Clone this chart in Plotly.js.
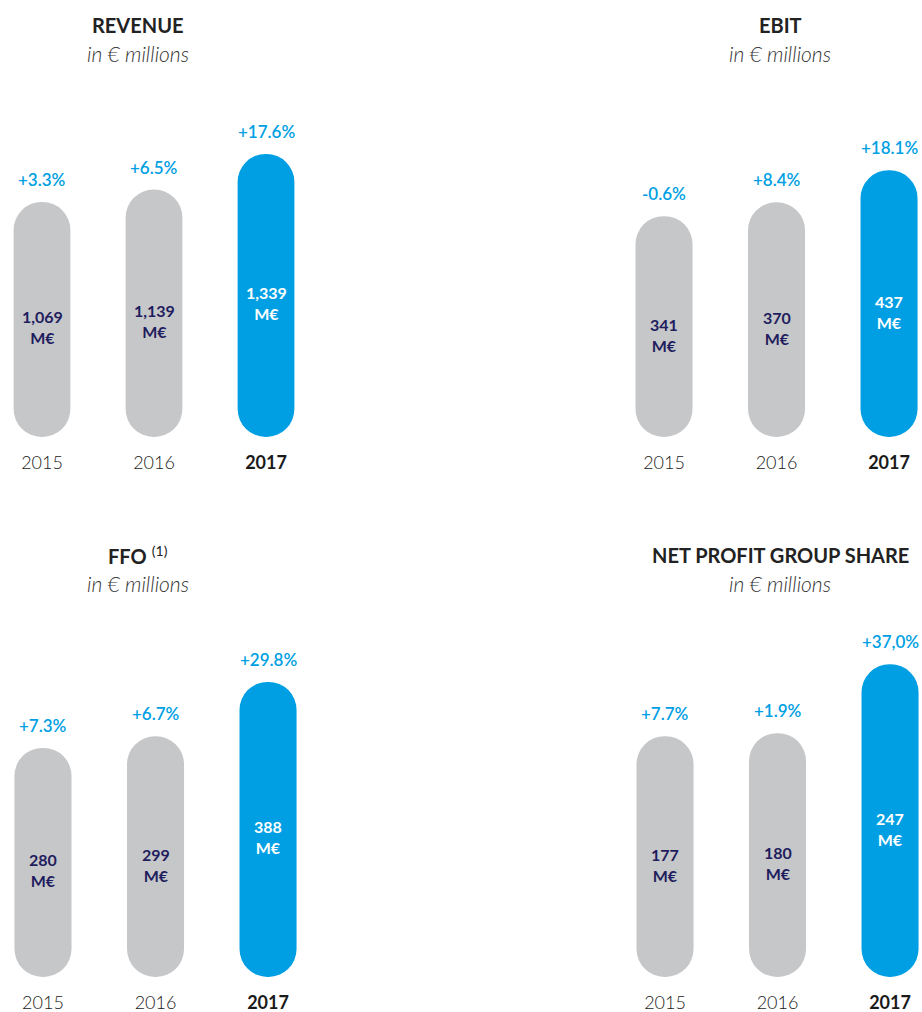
<!DOCTYPE html>
<html>
<head>
<meta charset="utf-8">
<script src="https://cdn.plot.ly/plotly-3.0.1.min.js"></script>
<style>
  html, body { margin: 0; padding: 0; background: #ffffff; }
  #chart { width: 922px; height: 1012px; }
</style>
</head>
<body>
<div id="chart"></div>
<script>
// ---------- DATA ----------
const years = ['2015', '2016', '2017'];
const highlightYear = '2017';

const revenue = [1069, 1139, 1339];
const revenueGrowth = ['+3.3%', '+6.5%', '+17.6%'];

const ebit = [341, 370, 437];
const ebitGrowth = ['-0.6%', '+8.4%', '+18.1%'];

const ffo = [280, 299, 388];
const ffoGrowth = ['+7.3%', '+6.7%', '+29.8%'];

const netProfit = [177, 180, 247];
const netProfitGrowth = ['+7.7%', '+1.9%', '+37,0%'];

const panelTitles = ['<b>REVENUE</b>', '<b>EBIT</b>', '<b>FFO</b> <sup>(1)</sup>', '<b>NET PROFIT GROUP SHARE</b>'];
const unitLabel = '<i>in € millions</i>';
const valueUnit = 'M€';

// ---------- STYLE ----------
const W = 922, H = 1012;
const GRAY = '#c6c7c9';
const BLUE = '#009fe3';
const NAVY = '#1f1d5e';
const FONT = 'Lato, "Open Sans", sans-serif';

const px = v => v / W;
const py = v => 1 - v / H;

const panels = [
  { values: revenue,   growth: revenueGrowth,   title: panelTitles[0], titleX: 138, titleY: 25,
    xDomain: [0, 313.5 / W], xRange: [-0.375, 2.424], yDomain: [py(437), py(100)], yRange: [-253, 1642.5] },
  { values: ebit,      growth: ebitGrowth,      title: panelTitles[1], titleX: 780, titleY: 25,
    xDomain: [600 / W, 1],   xRange: [-0.569, 2.293], yDomain: [py(437), py(100)], yRange: [-120, 583.5] },
  { values: ffo,       growth: ffoGrowth,       title: panelTitles[2], titleX: 138, titleY: 555,
    xDomain: [0, 313.5 / W], xRange: [-0.382, 2.404], yDomain: [py(977), py(640)], yRange: [-95, 456.6] },
  { values: netProfit, growth: netProfitGrowth, title: panelTitles[3], titleX: 780, titleY: 555,
    xDomain: [600 / W, 1],   xRange: [-0.578, 2.284], yDomain: [py(977), py(640)], yRange: [-57, 270.5] }
];

const BAR_W = 0.507;
const barColors = years.map(y => y === highlightYear ? BLUE : GRAY);
const textColors = years.map(y => y === highlightYear ? '#ffffff' : NAVY);
const fmt = v => v.toLocaleString('en-US');
const idx = years.map((_, j) => j);

const data = [];
const annotations = [];
const layout = {
  width: W, height: H,
  margin: { l: 0, r: 0, t: 0, b: 0 },
  paper_bgcolor: '#ffffff', plot_bgcolor: 'rgba(0,0,0,0)',
  showlegend: false,
  barmode: 'overlay',
  font: { family: FONT, color: '#333333' },
  annotations: annotations
};

panels.forEach((p, i) => {
  const n = i + 1;
  const xa = n === 1 ? 'x' : 'x' + n;
  const ya = n === 1 ? 'y' : 'y' + n;
  const xKey = n === 1 ? 'xaxis' : 'xaxis' + n;
  const yKey = n === 1 ? 'yaxis' : 'yaxis' + n;
  const lo = p.yRange[0];

  // Pill-shaped bar (rounded at both ends)
  data.push({
    type: 'bar', x: years, base: lo,
    y: p.values.map(v => v - lo),
    width: BAR_W,
    marker: { color: barColors, cornerradius: '50%', line: { width: 0 } },
    xaxis: xa, yaxis: ya, hoverinfo: 'skip'
  });

  layout[xKey] = {
    domain: p.xDomain, range: p.xRange, type: 'category', anchor: ya,
    showgrid: false, zeroline: false, showline: false,
    ticks: 'outside', ticklen: 9, tickcolor: 'rgba(0,0,0,0)',
    tickvals: years,
    ticktext: years.map(y => y === highlightYear ? '<b>' + y + '</b>' : y),
    tickfont: { family: FONT, size: 18, color: '#1a1a1a', weight: 300 },
    fixedrange: true
  };
  layout[yKey] = {
    domain: p.yDomain, range: p.yRange, anchor: xa, visible: false, fixedrange: true
  };

  // Panel titles
  annotations.push({
    xref: 'paper', yref: 'paper', x: px(p.titleX), y: py(p.titleY),
    text: p.title, showarrow: false, xanchor: 'center', yanchor: 'middle',
    font: { family: FONT, size: 20, color: '#222222' }
  });
  annotations.push({
    xref: 'paper', yref: 'paper', x: px(p.titleX), y: py(p.titleY + 28),
    text: unitLabel, showarrow: false, xanchor: 'center', yanchor: 'middle',
    font: { family: FONT, size: 21, color: '#333333', weight: 300 }
  });

  idx.forEach(j => {
    const v = p.values[j];
    // growth label above pill
    annotations.push({
      xref: xa, yref: ya, x: j, y: v, yanchor: 'bottom', yshift: 10,
      text: p.growth[j], showarrow: false,
      font: { family: FONT, size: 17, color: BLUE, weight: 600 }
    });
    // value label inside pill
    annotations.push({
      xref: xa, yref: ya, x: j, y: (v + lo) / 2, yanchor: 'middle', yshift: -8,
      text: '<b>' + fmt(v) + '</b><br><b>' + valueUnit + '</b>', showarrow: false,
      font: { family: FONT, size: 16, color: textColors[j] }
    });
  });
});

Plotly.newPlot('chart', data, layout, { displayModeBar: false, staticPlot: true });
</script>
</body>
</html>
